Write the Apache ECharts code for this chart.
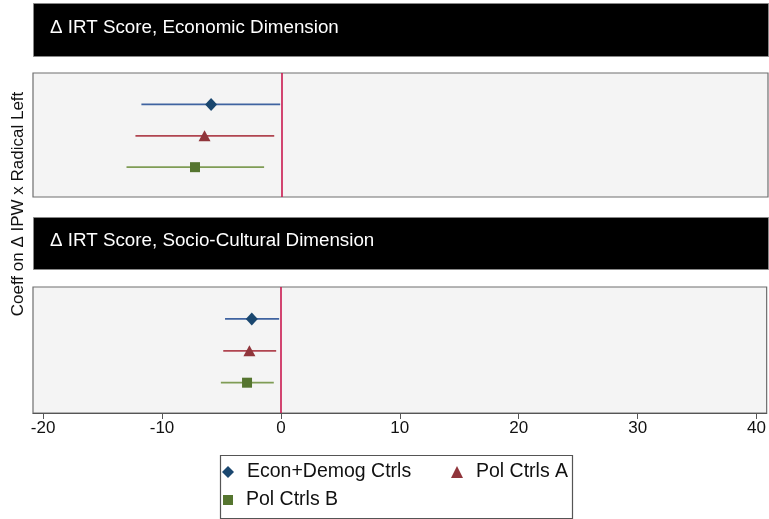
<!DOCTYPE html>
<html><head><meta charset="utf-8">
<script src="https://cdn.jsdelivr.net/npm/echarts@6/dist/echarts.min.js"></script>
<style>html,body{margin:0;padding:0;background:#fff}#c{width:769px;height:519px}</style>
</head><body><div id="c"></div>
<script>
const models = ['Econ+Demog Ctrls', 'Pol Ctrls A', 'Pol Ctrls B'];
const positions = [1, 2, 3];
const panelTitles = ['\u0394 IRT Score, Economic Dimension', '\u0394 IRT Score, Socio-Cultural Dimension'];
const econEst = [-5.9, -6.45, -7.25];
const econLo = [-11.75, -12.25, -13.0];
const econHi = [-0.1, -0.6, -1.45];
const socEst = [-2.45, -2.65, -2.85];
const socLo = [-4.7, -4.85, -5.05];
const socHi = [-0.15, -0.4, -0.6];
const xTicks = [-20, -10, 0, 10, 20, 30, 40];
const yTitle = 'Coeff on \u0394 IPW x Radical Left';

const markerColors = ['#1a476f', '#90353b', '#55752f'];
const lineColors = ['#3f63a0', '#b04550', '#7f9c55'];
const symbols = ['diamond', 'triangle', 'rect'];
const symSizes = [[12, 13], [12, 11], [10, 10]];
const FONT = 'Liberation Sans, Arial, sans-serif';

const chart = echarts.init(document.getElementById('c'));
const panels = [
  {est: econEst, lo: econLo, hi: econHi},
  {est: socEst, lo: socLo, hi: socHi}
];
const grids = [
  {left: 33, right: 1, top: 73, height: 124},
  {left: 33, right: 1, top: 287, height: 126}
];
const series = [];
panels.forEach((p, gi) => {
  models.forEach((m, i) => {
    series.push({
      type: 'custom', name: 'ci' + gi + '_' + i, xAxisIndex: gi, yAxisIndex: gi,
      silent: true, z: 3,
      data: [[p.lo[i], p.hi[i], positions[i]]],
      encode: {x: [0, 1], y: 2},
      renderItem: function (params, api) {
        const a = api.coord([api.value(0), api.value(2)]);
        const b = api.coord([api.value(1), api.value(2)]);
        return {type: 'line', shape: {x1: a[0], y1: a[1], x2: b[0], y2: b[1]},
          style: {stroke: lineColors[i], lineWidth: 1.7}};
      },
      markLine: i === 0 ? {
        silent: true, symbol: 'none', animation: false,
        label: {show: false},
        lineStyle: {color: '#c9184f', width: 1.6, type: 'solid'},
        data: [{xAxis: 0}]
      } : undefined
    });
    series.push({
      type: 'scatter', name: m, xAxisIndex: gi, yAxisIndex: gi, z: 5,
      symbol: symbols[i], symbolSize: symSizes[i],
      itemStyle: {color: markerColors[i], opacity: 1},
      data: [[p.est[i], positions[i]]]
    });
  });
});

const xAxisBase = (gi) => ({
  type: 'value', gridIndex: gi, min: -20.85, max: 40.85,
  splitLine: {show: false},
  axisLine: {show: gi === 1, onZero: false, lineStyle: {color: '#555', width: 1.2}},
  axisTick: {show: gi === 1, customValues: xTicks, length: 6, lineStyle: {color: '#555'}},
  axisLabel: {show: gi === 1, customValues: xTicks, color: '#111', fontSize: 17, fontFamily: FONT, margin: 7,
    formatter: v => String(v)}
});
const yAxisBase = (gi) => ({
  type: 'value', gridIndex: gi, min: 0, max: 3.95, inverse: true,
  show: false, splitLine: {show: false}
});

const legendCommon = {
  itemWidth: 12, itemHeight: 12, itemGap: 10,
  textStyle: {fontSize: 19.5, fontFamily: FONT, color: '#111', padding: [0, 0, 0, 8]},
  selectedMode: false, padding: 0
};

chart.setOption({
  animation: false,
  grid: grids.map(g => Object.assign({show: true, backgroundColor: '#f4f4f4', borderColor: '#6e6e6e', borderWidth: 1.2}, g)),
  xAxis: [xAxisBase(0), xAxisBase(1)],
  yAxis: [yAxisBase(0), yAxisBase(1)],
  legend: [
    Object.assign({}, legendCommon, {left: 222, top: 462, data: [{name: models[0], icon: 'diamond'}]}),
    Object.assign({}, legendCommon, {left: 451, top: 462, data: [{name: models[1], icon: 'triangle'}]}),
    Object.assign({}, legendCommon, {left: 223, top: 490, data: [{name: models[2], icon: 'rect'}], itemWidth: 10, itemHeight: 10})
  ],
  graphic: [
    {type: 'rect', left: 33, top: 3, shape: {width: 735, height: 53}, style: {fill: '#000', stroke: '#888', lineWidth: 1}},
    {type: 'text', left: 50, top: 18.5, style: {text: panelTitles[0], fill: '#fff', font: '18.8px ' + FONT}},
    {type: 'rect', left: 33, top: 217, shape: {width: 735, height: 52}, style: {fill: '#000', stroke: '#888', lineWidth: 1}},
    {type: 'text', left: 50, top: 231.5, style: {text: panelTitles[1], fill: '#fff', font: '18.8px ' + FONT}},
    {type: 'text', x: 18, y: 204, rotation: Math.PI / 2,
      style: {text: yTitle, fill: '#111', font: '17px ' + FONT, textAlign: 'center', textVerticalAlign: 'middle'}},
    {type: 'rect', left: 218, top: 453, shape: {width: 352, height: 63}, style: {fill: 'none', stroke: '#555', lineWidth: 1.2}}
  ],
  series: series
});
</script></body></html>
